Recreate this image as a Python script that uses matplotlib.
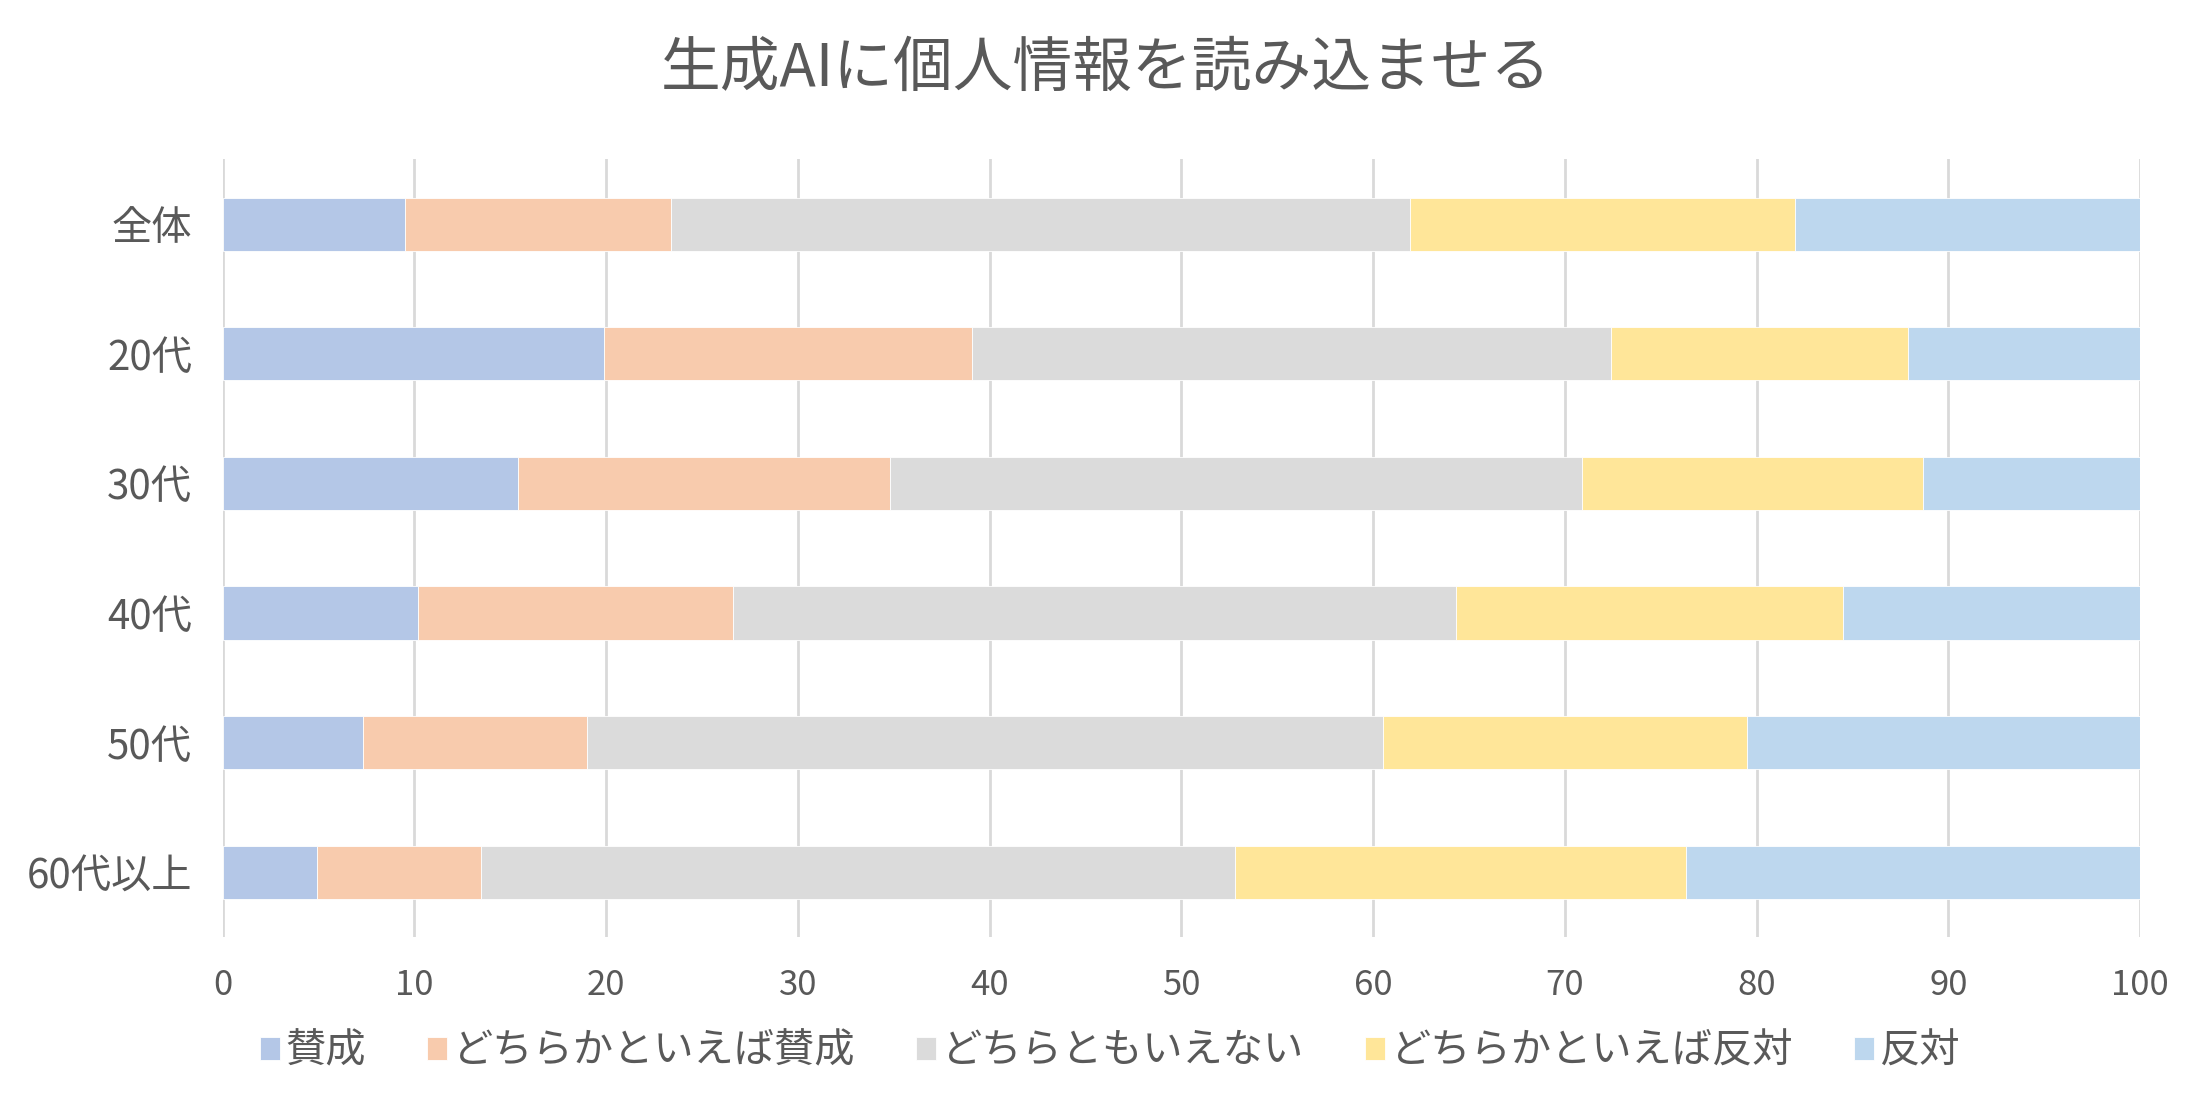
import matplotlib
matplotlib.use("Agg")
from matplotlib import pyplot as plt
import numpy as np

plt.rcParams['font.family'] = ['Noto Sans CJK JP', 'DejaVu Sans']

# data (percent)
groups = ['全体', '20代', '30代', '40代', '50代', '60代以上']
series = ['賛成', 'どちらかといえば賛成', 'どちらともいえない', 'どちらかといえば反対', '反対']
agree = [9.5, 19.9, 15.4, 10.2, 7.3, 4.9]
rather_agree = [13.9, 19.2, 19.4, 16.4, 11.7, 8.6]
neutral = [38.5, 33.3, 36.1, 37.7, 41.5, 39.3]
rather_oppose = [20.1, 15.5, 17.8, 20.2, 19.0, 23.5]
oppose = [18.0, 12.1, 11.3, 15.5, 20.5, 23.7]
xticks = [0, 10, 20, 30, 40, 50, 60, 70, 80, 90, 100]

colors = ['#B4C7E7', '#F8CBAD', '#DBDBDB', '#FFE699', '#BDD7EE']
text_color = '#595959'

fig = plt.figure(figsize=(22.11, 11.06), dpi=100)
ax = fig.add_axes([0.1007, 0.1528, 0.8672, 0.7032])

y = np.arange(len(groups))
left = np.zeros(len(groups))
for name, vals, c in zip(series,
                         [agree, rather_agree, neutral, rather_oppose, oppose],
                         colors):
    vals = np.array(vals)
    ax.barh(y, vals, left=left, height=0.41, color=c, label=name,
            edgecolor='white', linewidth=0.6, zorder=2)
    left += vals

ax.set_xlim(0, 100)
ax.set_ylim(len(groups) - 0.5, -0.5)
ax.set_xticks(xticks)
ax.set_yticks(y)
ax.set_yticklabels(groups)
ax.xaxis.grid(True, color='#D9D9D9', linewidth=2, zorder=0)
ax.set_axisbelow(True)
for s in ax.spines.values():
    s.set_visible(False)
ax.tick_params(axis='x', length=0, pad=22, labelsize=25, labelcolor=text_color)
ax.tick_params(axis='y', length=0, pad=22, labelsize=29, labelcolor=text_color)

fig.text(0.5, 0.937, '生成AIに個人情報を読み込ませる', ha='center', va='center',
         fontsize=43, color=text_color)

fig.legend(loc='center', bbox_to_anchor=(0.502, 0.0497), ncol=5, frameon=False,
           fontsize=29, labelcolor=text_color, handlelength=0.5,
           handleheight=0.5, handletextpad=0.15, columnspacing=1.5)

fig.savefig('out.png', dpi=100, facecolor='white')
